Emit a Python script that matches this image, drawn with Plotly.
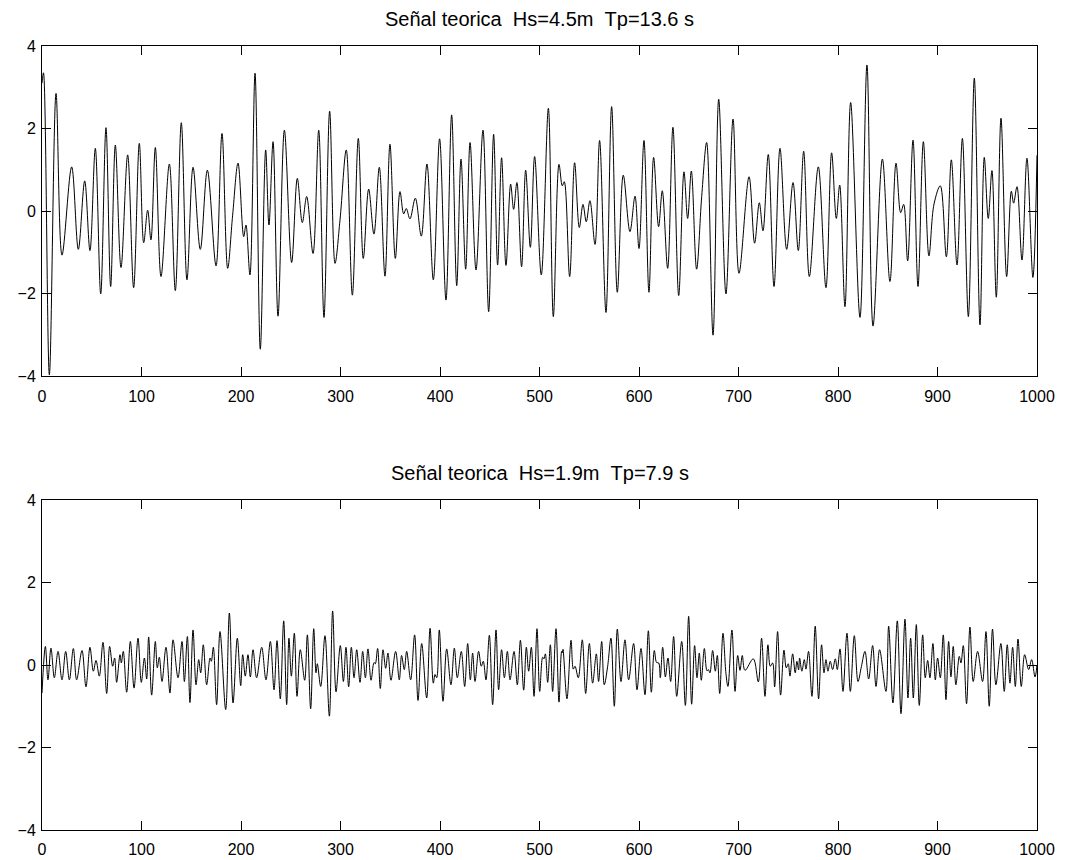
import plotly.graph_objects as go

# Surface elevation records (time in s, elevation in m), sampled at the crests and troughs
top_t = [0, 1.5, 7.4, 14.1, 20.1, 29.8, 36.5, 42.9, 48.2, 53.6, 59.0, 64.3, 69.0, 73.7, 79.4, 86.1,
         92.1, 97.8, 102.2, 106.2, 109.5, 113.9, 119.6, 128.0, 134.0, 140.0, 145.7, 151.8, 159.1,
         166.2, 174.9, 180.9, 186.6, 191.6, 197.0, 202.7, 205.0, 209.0, 214.1, 219.4, 224.8, 228.1,
         232.2, 237.2, 243.6, 250.9, 256.6, 261.6, 266.0, 272.4, 278.1, 283.4, 289.1, 294.5, 299.5,
         305.8, 311.9, 317.9, 322.9, 328.3, 333.6, 339.0, 344.7, 349.7, 355.1, 359.8, 363.5, 366.1,
         369.8, 375.2, 381.2, 386.9, 393.3, 399.6, 406.0, 411.7, 416.8, 421.1, 425.8, 430.2, 436.2,
         443.2, 448.9, 453.9, 457.9, 461.9, 466.3, 471.0, 474.0, 477.3, 482.0, 486.1, 490.8, 495.1,
         501.8, 508.9, 513.9, 519.6, 522.9, 524.9, 530.3, 535.3, 540.0, 543.7, 547.0, 550.7, 555.8,
         560.4, 566.8, 572.5, 578.2, 584.2, 590.9, 596.0, 600.0, 605.0, 610.0, 614.7, 619.7, 623.4,
         628.8, 634.1, 639.9, 645.2, 648.9, 652.6, 657.9, 663.0, 668.0, 674.4, 680.1, 687.4, 694.5,
         700.5, 710.6, 716.2, 720.9, 724.6, 729.9, 735.7, 741.7, 748.4, 754.8, 760.1, 765.5, 771.2,
         780.2, 787.9, 793.6, 798.3, 801.7, 807.0, 812.7, 822.1, 829.1, 835.2, 844.6, 852.2, 858.3,
         863.0, 866.0, 870.0, 875.4, 880.4, 885.8, 891.4, 896.5, 902.8, 908.9, 913.9, 919.6, 925.0,
         931.0, 937.0, 942.7, 947.0, 951.0, 954.7, 959.1, 963.8, 969.5, 974.2, 976.5, 979.9, 984.9,
         989.9, 995.9, 1000.0]
top_y = [3.1, 3.35, -3.97, 2.85, -1.07, 1.07, -0.93, 0.73, -0.96, 1.52, -2.01, 2.02, -1.83, 1.6,
         -1.37, 1.36, -1.86, 1.64, -0.77, 0.02, -0.70, 1.54, -1.59, 1.14, -1.93, 2.14, -1.67, 1.06,
         -0.93, 0.99, -1.33, 1.88, -1.39, -0.1, 1.16, -0.62, -0.34, -1.55, 3.34, -3.35, 1.48, -0.34,
         1.68, -2.55, 1.96, -1.25, 0.79, -0.28, 0.35, -1.03, 1.96, -2.58, 2.42, -1.27, -0.22, 1.48,
         -2.04, 1.76, -1.15, 0.53, -0.56, 1.06, -1.58, 1.62, -1.15, 0.47, -0.07, 0.06, -0.19, 0.31,
         -0.61, 1.14, -1.67, 1.75, -2.16, 2.33, -1.81, 1.26, -1.41, 1.66, -1.43, 1.96, -2.44, 1.86,
         -1.31, 1.29, -1.32, 0.65, 0.04, 0.69, -1.35, 0.99, -0.88, 1.32, -1.55, 2.49, -2.56, 1.13,
         0.61, 0.71, -1.59, 1.17, -0.40, 0.16, -0.26, 0.25, -0.81, 1.71, -2.46, 2.53, -1.97, 0.87,
         -0.50, 0.36, -0.91, 1.71, -1.97, 1.30, -0.38, 0.49, -1.39, 2.03, -2.05, 0.95, -0.18, 0.97,
         -1.41, 0.35, 1.66, -3.01, 2.71, -2.01, 2.23, -1.51, 0.83, -0.78, 0.20, -0.48, 1.37, -1.83,
         1.52, -0.93, 0.69, -0.96, 1.45, -1.59, 1.07, -1.86, 1.41, -0.18, 0.63, -2.32, 2.63, -2.58,
         3.54, -2.79, 1.26, -1.71, 1.16, -0.04, 0.16, -1.21, 1.72, -1.83, 1.68, -1.09, 0.17, 0.61,
         -1.11, 1.24, -1.31, 1.76, -2.56, 3.22, -2.76, 1.30, -0.18, 0.98, -2.09, 2.25, -1.59, 0.48,
         0.19, 0.59, -1.19, 1.28, -1.61, 1.35]

bot_t = [0, 3.4, 6.0, 9.0, 12.4, 16.1, 20.1, 23.8, 27.5, 31.5, 34.8, 40.2, 44.2, 48.2, 51.6, 54.3,
         57.6, 61.3, 65.0, 68.0, 71.0, 73.0, 75.0, 78.4, 79.7, 81.7, 85.1, 88.8, 92.5, 96.5, 99.8,
         102.9, 105.2, 107.2, 110.2, 113.9, 115.9, 117.9, 120.6, 124.6, 128.6, 131.7, 136.7, 140.7,
         143.1, 146.1, 148.7, 151.8, 154.8, 157.5, 159.5, 162.1, 165.5, 168.9, 170.2, 172.2, 175.5,
         178.9, 184.6, 188.3, 192.0, 196.3, 199.7, 201.7, 204.3, 207.0, 209.4, 212.1, 215.7, 220.8,
         225.1, 229.5, 233.2, 236.2, 239.5, 242.9, 245.9, 248.2, 250.6, 253.6, 256.3, 259.6, 264.0,
         266.7, 270.0, 273.1, 275.4, 276.7, 280.1, 284.4, 288.8, 292.1, 295.5, 299.8, 302.9, 305.5,
         308.2, 310.9, 313.6, 316.3, 319.6, 322.3, 325.0, 327.6, 330.7, 333.7, 335.0, 337.3, 340.0,
         342.7, 345.4, 347.7, 350.7, 355.4, 359.1, 361.4, 364.1, 366.5, 370.5, 374.5, 377.9, 381.6,
         386.6, 390.0, 393.3, 395.0, 396.7, 399.3, 403.0, 406.7, 411.0, 414.4, 417.4, 421.4, 424.8,
         427.8, 430.5, 432.8, 435.2, 438.8, 441.5, 443.5, 446.2, 449.6, 452.9, 456.3, 458.9, 461.9,
         464.7, 467.7, 470.4, 474.4, 477.7, 480.8, 484.1, 486.8, 489.1, 491.8, 494.5, 497.5, 500.2,
         503.2, 504.5, 505.9, 508.2, 510.9, 513.2, 516.6, 519.6, 522.3, 523.0, 523.6, 527.6, 531.7,
         534.0, 535.7, 539.0, 543.0, 546.4, 550.1, 553.4, 557.1, 559.4, 562.5, 565.1, 568.5, 571.8,
         575.2, 578.2, 581.9, 585.9, 589.6, 594.6, 598.0, 602.0, 606.0, 609.4, 612.4, 615.4, 617.7,
         619.8, 621.4, 623.8, 626.5, 629.1, 631.8, 634.8, 637.9, 642.9, 646.6, 649.9, 652.9, 655.9,
         658.3, 660.6, 662.6, 665.7, 668.3, 669.7, 671.3, 674.0, 676.7, 678.7, 681.1, 684.4, 687.4,
         689.4, 693.4, 696.5, 699.2, 701.5, 703.8, 706.5, 714.9, 719.9, 723.2, 726.6, 729.6, 731.9,
         734.3, 736.3, 739.3, 742.3, 745.7, 748.0, 750.0, 751.7, 754.4, 757.0, 758.7, 760.4, 761.4,
         763.7, 766.1, 767.8, 770.4, 773.8, 777.1, 780.5, 783.5, 785.9, 787.9, 789.9, 792.2, 794.6,
         797.3, 799.3, 802.0, 805.0, 809.0, 812.4, 816.4, 820.1, 823.5, 827.1, 830.8, 834.8, 838.2,
         841.8, 848.2, 850.9, 855.2, 859.6, 863.3, 867.3, 870.3, 873.0, 875.7, 878.7, 881.7, 885.1,
         887.7, 890.1, 892.4, 895.4, 897.8, 900.1, 902.8, 905.8, 908.5, 911.2, 913.5, 915.8, 918.5,
         921.9, 923.6, 925.9, 929.2, 932.6, 935.9, 940.3, 945.3, 948.7, 952.0, 955.3, 958.7, 963.7,
         967.1, 970.1, 972.8, 975.5, 978.2, 980.9, 984.2, 987.6, 991.6, 994.6, 998.0, 1000.0]
bot_y = [-0.68, 0.45, -0.36, 0.41, -0.31, 0.33, -0.36, 0.33, -0.36, 0.40, -0.36, 0.35, -0.53, 0.43,
         -0.15, 0.11, -0.27, 0.55, -0.69, 0.45, -0.03, 0.17, -0.42, 0.25, 0.05, 0.33, -0.66, 0.57,
         -0.56, 0.65, -0.42, 0.17, -0.34, 0.68, -0.73, 0.57, -0.07, 0.19, -0.40, 0.43, -0.68, 0.61,
         -0.31, 0.57, -0.40, 0.69, -0.91, 0.85, -0.48, 0.13, -0.19, 0.49, -0.48, 0.17, 0.09, 0.43,
         -0.96, 0.81, -1.08, 1.26, -0.92, 0.65, -0.50, 0.25, -0.27, 0.25, -0.29, 0.37, -0.31, 0.43,
         -0.36, 0.57, -0.60, 0.59, -0.82, 1.07, -0.96, 0.65, -0.27, 0.77, -0.76, 0.37, -0.37, 0.73,
         -1.06, 0.88, -0.19, 0.03, -0.52, 0.71, -1.24, 1.31, -0.65, 0.47, -0.40, 0.43, -0.53, 0.43,
         -0.31, 0.37, -0.42, 0.33, -0.31, 0.39, -0.37, 0.06, 0.03, 0.40, -0.57, 0.37, -0.08, 0.29,
         -0.37, 0.33, -0.36, 0.23, -0.11, 0.33, -0.36, 0.73, -0.86, 0.52, -0.80, 0.89, -0.44, -0.23,
         -0.31, 0.85, -0.88, 0.39, -0.48, 0.41, -0.31, 0.33, -0.52, 0.52, -0.36, 0.29, -0.40, 0.33,
         -0.03, 0.09, -0.36, 0.72, -0.96, 0.85, -0.60, 0.37, -0.31, 0.33, -0.36, 0.33, -0.48, 0.60,
         -0.61, 0.43, -0.15, 0.43, -0.76, 0.88, -0.64, 0.19, 0.15, 0.27, -0.42, 0.49, -0.64, 0.88,
         -0.90, 0.33, 0.30, 0.38, -0.82, 0.60, -0.10, -0.03, -0.31, 0.61, -0.69, 0.52, -0.44, 0.27,
         -0.40, 0.57, -0.48, -0.03, 0.65, -1.00, 0.87, -0.40, 0.61, -0.36, 0.52, -0.60, 0.40, -0.72,
         0.83, -0.66, 0.35, 0.06, 0.05, -0.31, 0.43, -0.29, 0.17, -0.40, 0.69, -0.76, 0.57, -0.98,
         1.18, -0.95, 0.47, -0.31, 0.29, -0.37, 0.40, -0.14, -0.11, -0.19, 0.35, -0.15, 0.23, -0.69,
         0.77, -0.21, -0.52, 0.85, -0.64, 0.23, -0.13, 0.23, -0.13, 0.15, -0.41, 0.65, -0.76, 0.49,
         -0.03, 0.05, -0.53, 0.81, -0.73, 0.36, -0.07, 0.03, -0.27, 0.27, -0.19, 0.09, -0.12, 0.17,
         -0.15, 0.13, -0.10, 0.33, -0.76, 0.94, -0.82, 0.49, -0.19, 0.13, -0.15, 0.09, -0.11, 0.15,
         -0.11, 0.39, -0.64, 0.77, -0.64, 0.71, -0.40, -0.04, 0.33, -0.34, 0.47, -0.52, 0.37, -0.64,
         0.94, -0.92, 1.07, -1.18, 1.11, -0.80, 0.65, -0.80, 0.98, -0.98, 0.73, -0.31, 0.11, -0.31,
         0.52, -0.36, 0.17, -0.31, 0.73, -0.84, 0.57, -0.29, 0.45, -0.48, 0.21, 0.05, 0.47, -0.94,
         0.92, -0.40, 0.33, -0.40, 0.81, -1.00, 0.87, -0.48, 0.52, -0.64, 0.49, -0.44, 0.43, -0.52,
         0.63, -0.52, 0.25, -0.11, 0.13, -0.29, 0.0]

titles = ["Señal teorica\u00a0\u00a0Hs=4.5m\u00a0\u00a0Tp=13.6 s",
          "Señal teorica\u00a0\u00a0Hs=1.9m\u00a0\u00a0Tp=7.9 s"]
x_ticks = list(range(0, 1001, 100))
y_ticks = [-4, -2, 0, 2, 4]

FONT = "Liberation Sans, Arial, sans-serif"

fig = go.Figure()
fig.add_trace(go.Scatter(x=top_t, y=top_y, mode="lines", xaxis="x", yaxis="y",
                         line=dict(color="black", width=1, shape="spline", smoothing=1.0),
                         showlegend=False, hoverinfo="skip"))
fig.add_trace(go.Scatter(x=bot_t, y=bot_y, mode="lines", xaxis="x2", yaxis="y2",
                         line=dict(color="black", width=1, shape="spline", smoothing=1.0),
                         showlegend=False, hoverinfo="skip"))

axis_common = dict(showline=True, linecolor="black", linewidth=1, mirror="ticks",
                   ticks="inside", ticklen=9, tickwidth=1, tickcolor="black",
                   showgrid=False, zeroline=False, automargin=False,
                   tickfont=dict(family=FONT, size=16, color="black"))

top_dom = [(830 - 376) / 784, 1.0]
bot_dom = [0.0, (830 - 500) / 784]

fig.update_layout(
    width=1066, height=860,
    margin=dict(l=42, r=29, t=46, b=30),
    paper_bgcolor="white", plot_bgcolor="white",
    font=dict(family=FONT, size=16, color="black"),
    xaxis=dict(domain=[0, 1], range=[0, 1000], tickvals=x_ticks, anchor="y",
               ticklabelstandoff=6, **axis_common),
    yaxis=dict(domain=top_dom, range=[-4, 4], tickvals=y_ticks, anchor="x",
               ticklabelstandoff=2, **axis_common),
    xaxis2=dict(domain=[0, 1], range=[0, 1000], tickvals=x_ticks, anchor="y2",
                ticklabelstandoff=5, **axis_common),
    yaxis2=dict(domain=bot_dom, range=[-4, 4], tickvals=y_ticks, anchor="x2",
                ticklabelstandoff=2, **axis_common),
    annotations=[
        dict(text=titles[0], x=0.5, y=top_dom[1], xref="paper", yref="paper",
             xanchor="center", yanchor="bottom", yshift=14, showarrow=False,
             font=dict(family=FONT, size=20, color="black")),
        dict(text=titles[1], x=0.5, y=bot_dom[1], xref="paper", yref="paper",
             xanchor="center", yanchor="bottom", yshift=14, showarrow=False,
             font=dict(family=FONT, size=20, color="black")),
    ],
)

fig.write_html("out.html")
